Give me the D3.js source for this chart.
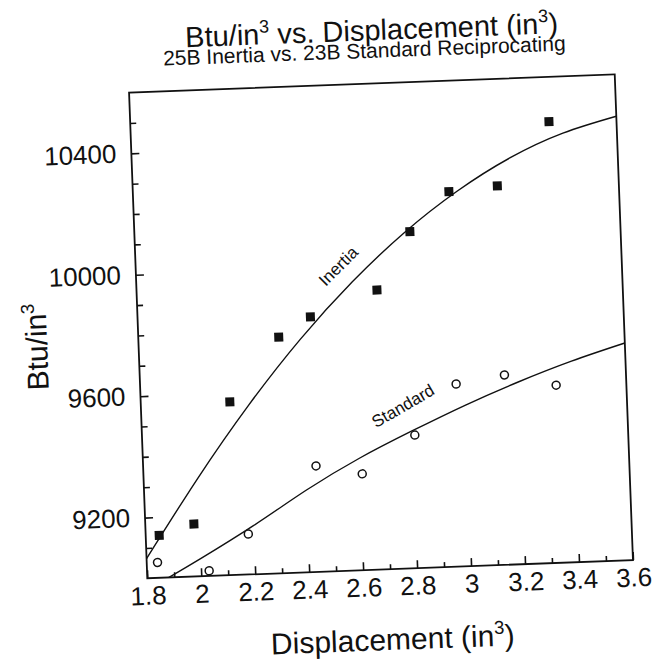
<!DOCTYPE html>
<html>
<meta charset="utf-8">
<head>
<script src="https://d3js.org/d3.v7.min.js"></script>
<style>
body { margin: 0; background: #fff; }
text { font-family: "Liberation Sans", Arial, Helvetica, sans-serif; fill: #111; }
</style>
</head>
<body>
<div id="chart"></div>
<script>

// 25B Inertia, measured points (filled squares)
var inertiaX = [1.85, 1.98, 2.13, 2.32, 2.44, 2.69, 2.82, 2.97, 3.15, 3.35];
var inertiaY = [9140, 9173, 9570, 9777, 9840, 9920, 10108, 10235, 10248, 10453];

// 23B Standard, measured points (open circles)
var standardX = [1.84, 2.03, 2.18, 2.44, 2.61, 2.81, 2.97, 3.15, 3.34];
var standardY = [9051, 9017, 9133, 9349, 9317, 9438, 9601, 9625, 9585];

// fitted curves
var inertiaFitX = [1.8, 2.0, 2.2, 2.4, 2.6, 2.8, 3.0, 3.2, 3.4, 3.6];
var inertiaFitY = [9065, 9322, 9558, 9768, 9950, 10106, 10235, 10338, 10413, 10462];
var standardFitX = [1.88, 2.0, 2.2, 2.4, 2.6, 2.8, 3.0, 3.2, 3.4, 3.6];
var standardFitY = [9000, 9058, 9160, 9270, 9368, 9452, 9530, 9600, 9662, 9715];

// ticks
var xMajor = [1.8, 2, 2.2, 2.4, 2.6, 2.8, 3, 3.2, 3.4, 3.6];
var xLabels = ["1.8", "2", "2.2", "2.4", "2.6", "2.8", "3", "3.2", "3.4", "3.6"];
var xMinor = [1.9, 2.1, 2.3, 2.5, 2.7, 2.9, 3.1, 3.3, 3.5];
var yMajor = [9200, 9600, 10000, 10400];
var yMinor = [9100, 9300, 9400, 9500, 9700, 9800, 9900, 10100, 10200, 10300, 10500];

var W = 658, H = 670;
var plotLeft = 147.3, plotTop = 92.3, plotW = 486, plotH = 486;
var tilt = -2.15;   // the scanned page sits a bit crooked

var svg = d3.select("#chart").append("svg")
    .attr("width", W)
    .attr("height", H);

var page = svg.append("g")
    .attr("transform", "rotate(" + tilt + "," + plotLeft + "," + (plotTop + plotH) + ")");

var plot = page.append("g")
    .attr("transform", "translate(" + plotLeft + "," + plotTop + ")");

var x = d3.scaleLinear().domain([1.8, 3.6]).range([0, plotW]);
var y = d3.scaleLinear().domain([9000, 10600]).range([plotH, 0]);

function styleAxis(g, size) {
    g.select(".domain").remove();
    g.selectAll(".tick line").attr("stroke", "#111").attr("stroke-width", 1.6);
    g.selectAll("text")
        .attr("font-family", "\"Liberation Sans\", Arial, sans-serif")
        .attr("font-size", size)
        .attr("fill", "#111");
}

// minor ticks
plot.append("g")
    .attr("transform", "translate(0," + plotH + ")")
    .call(d3.axisBottom(x).tickValues(xMinor).tickSize(-5).tickFormat(""))
    .call(styleAxis, 0);
plot.append("g")
    .call(d3.axisLeft(y).tickValues(yMinor).tickSize(-6).tickFormat(""))
    .call(styleAxis, 0);

// major ticks + labels
plot.append("g")
    .attr("transform", "translate(0," + plotH + ")")
    .call(d3.axisBottom(x).tickValues(xMajor).tickSize(-8).tickPadding(8)
        .tickFormat(function(d, i){ return xLabels[i]; }))
    .call(styleAxis, 26);
plot.append("g")
    .call(d3.axisLeft(y).tickValues(yMajor).tickSize(-8).tickPadding(15)
        .tickFormat(d3.format("d")))
    .call(styleAxis, 26);

// frame
plot.append("rect")
    .attr("width", plotW)
    .attr("height", plotH)
    .attr("fill", "none")
    .attr("stroke", "#111")
    .attr("stroke-width", 1.8);

// fitted curves
var line = d3.line()
    .x(function(d){ return x(d[0]); })
    .y(function(d){ return y(d[1]); })
    .curve(d3.curveNatural);

plot.append("path")
    .datum(d3.zip(inertiaFitX, inertiaFitY))
    .attr("d", line)
    .attr("fill", "none")
    .attr("stroke", "#111")
    .attr("stroke-width", 1.4);

plot.append("path")
    .datum(d3.zip(standardFitX, standardFitY))
    .attr("d", line)
    .attr("fill", "none")
    .attr("stroke", "#111")
    .attr("stroke-width", 1.4);

// points
plot.selectAll("rect.inertia")
    .data(d3.zip(inertiaX, inertiaY))
    .enter()
    .append("rect")
    .attr("class", "inertia")
    .attr("x", function(d){ return x(d[0]) - 4.5; })
    .attr("y", function(d){ return y(d[1]) - 4.5; })
    .attr("width", 9)
    .attr("height", 9)
    .attr("fill", "#111");

plot.selectAll("circle.standard")
    .data(d3.zip(standardX, standardY))
    .enter()
    .append("circle")
    .attr("class", "standard")
    .attr("cx", function(d){ return x(d[0]); })
    .attr("cy", function(d){ return y(d[1]); })
    .attr("r", 4)
    .attr("fill", "#fff")
    .attr("stroke", "#111")
    .attr("stroke-width", 1.5);

// curve labels
plot.append("text")
    .attr("transform", "translate(" + x(2.55) + "," + y(10004) + ") rotate(-43)")
    .attr("text-anchor", "middle")
    .attr("dy", "0.35em")
    .attr("font-size", 17)
    .text("Inertia");

plot.append("text")
    .attr("transform", "translate(" + x(2.77) + "," + y(9536) + ") rotate(-28)")
    .attr("text-anchor", "middle")
    .attr("dy", "0.35em")
    .attr("font-size", 17)
    .text("Standard");

// text with superscript 3s
function supText(t, parts, size) {
    var up = size * 0.4;
    parts.forEach(function(p, i){
        var s = t.append("tspan").text(p);
        if (i % 2 == 1) {
            s.attr("font-size", size * 0.62).attr("dy", -up);
        } else if (i > 0) {
            s.attr("dy", up);
        }
    });
}

var title = page.append("text")
    .attr("x", 392)
    .attr("y", 49)
    .attr("text-anchor", "middle")
    .attr("font-size", 29);
supText(title, ["Btu/in", "3", " vs. Displacement (in", "3", ")"], 29);

page.append("text")
    .attr("x", 384)
    .attr("y", 66.5)
    .attr("text-anchor", "middle")
    .attr("font-size", 21)
    .text("25B Inertia vs. 23B Standard Reciprocating");

var xTitle = page.append("text")
    .attr("x", plotLeft + plotW / 2)
    .attr("y", 659)
    .attr("text-anchor", "middle")
    .attr("font-size", 30);
supText(xTitle, ["Displacement (in", "3", ")"], 30);

var yTitle = page.append("text")
    .attr("transform", "translate(56,343) rotate(-90)")
    .attr("text-anchor", "middle")
    .attr("font-size", 30);
supText(yTitle, ["Btu/in", "3"], 30);

</script>
</body>
</html>
